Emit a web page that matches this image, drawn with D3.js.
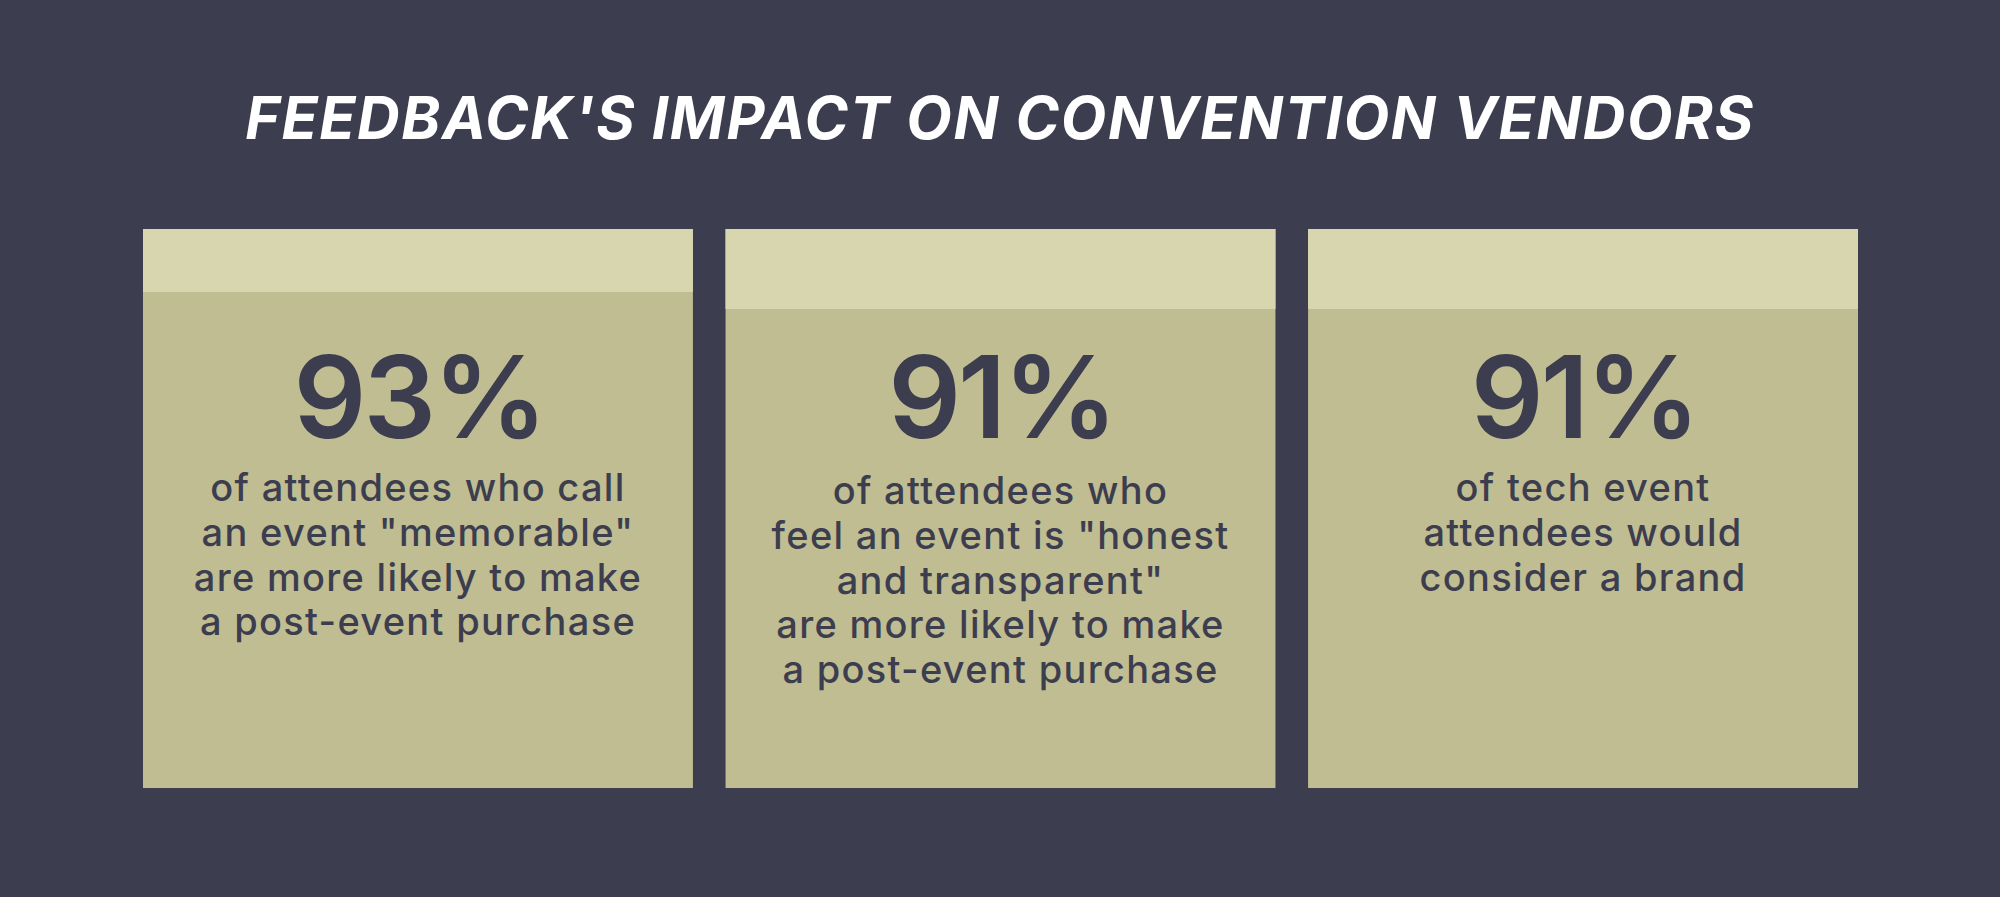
<!DOCTYPE html>
<html>
<head>
<meta charset="utf-8">
<script src="https://cdn.jsdelivr.net/npm/d3@7"></script>
<style>
  html, body { margin: 0; padding: 0; background: #3c3d4f; }
  svg { display: block; }
</style>
</head>
<body>
<svg width="2000" height="897"></svg>
<script>
// chart data
const title = "FEEDBACK'S IMPACT ON CONVENTION VENDORS";
const cards = ["c1", "c2", "c3"];
const percents = [93, 91, 91];
const captions = [
    ["of attendees who call", "an event \"memorable\"", "are more likely to make", "a post-event purchase"],
    ["of attendees who", "feel an event is \"honest", "and transparent\"", "are more likely to make", "a post-event purchase"],
    ["of tech event", "attendees would", "consider a brand"]
];

// layout
const bg = "#3c3d4f", cardFill = "#c0bd92", headFill = "#d8d6af", ink = "#3c3d4f";
const headHeights = [63, 80, 80];
const cardTop = 229, cardBottom = 788;

const svg = d3.select("svg");
svg.append("rect").attr("width", 2000).attr("height", 897).attr("fill", bg);

svg.append("text")
    .attr("x", 1000)
    .attr("y", 139)
    .attr("text-anchor", "middle")
    .attr("fill", "#ffffff")
    .style("font-family", "Inter, 'Open Sans', sans-serif")
    .style("font-weight", 700)
    .style("font-style", "italic")
    .style("font-size", "59px")
    .style("letter-spacing", "1.6px")
    .text(title);

const x = d3.scaleBand()
    .domain(cards)
    .range([143, 1858])
    .paddingInner(0.056);

const g = svg.selectAll(".card")
    .data(cards)
    .enter()
    .append("g")
    .attr("class", "card")
    .attr("transform", d => `translate(${x(d)},0)`);

g.append("rect")
    .attr("y", cardTop)
    .attr("width", x.bandwidth())
    .attr("height", cardBottom - cardTop)
    .attr("fill", cardFill);

g.append("rect")
    .attr("y", cardTop)
    .attr("width", x.bandwidth())
    .attr("height", (d, i) => headHeights[i])
    .attr("fill", headFill);

// big percentage
g.append("text")
    .attr("x", x.bandwidth() / 2 + 1)
    .attr("y", 438)
    .attr("text-anchor", "middle")
    .attr("fill", ink)
    .style("font-family", "Inter, 'Open Sans', sans-serif")
    .style("font-weight", 600)
    .style("font-size", "114px")
    .style("letter-spacing", "-3px")
    .text((d, i) => percents[i] + "%");

// caption lines
g.append("text")
    .attr("text-anchor", "middle")
    .attr("fill", ink)
    .style("font-family", "Inter, 'Open Sans', sans-serif")
    .style("font-weight", 500)
    .style("font-size", "38px")
    .style("letter-spacing", "1.3px")
    .selectAll("tspan")
    .data((d, i) => captions[i].map(t => ({ t, i })))
    .enter()
    .append("tspan")
    .attr("x", x.bandwidth() / 2)
    .attr("y", (d, j) => (d.i === 1 ? 504 : 501) + j * 44.8)
    .text(d => d.t);
</script>
</body>
</html>
